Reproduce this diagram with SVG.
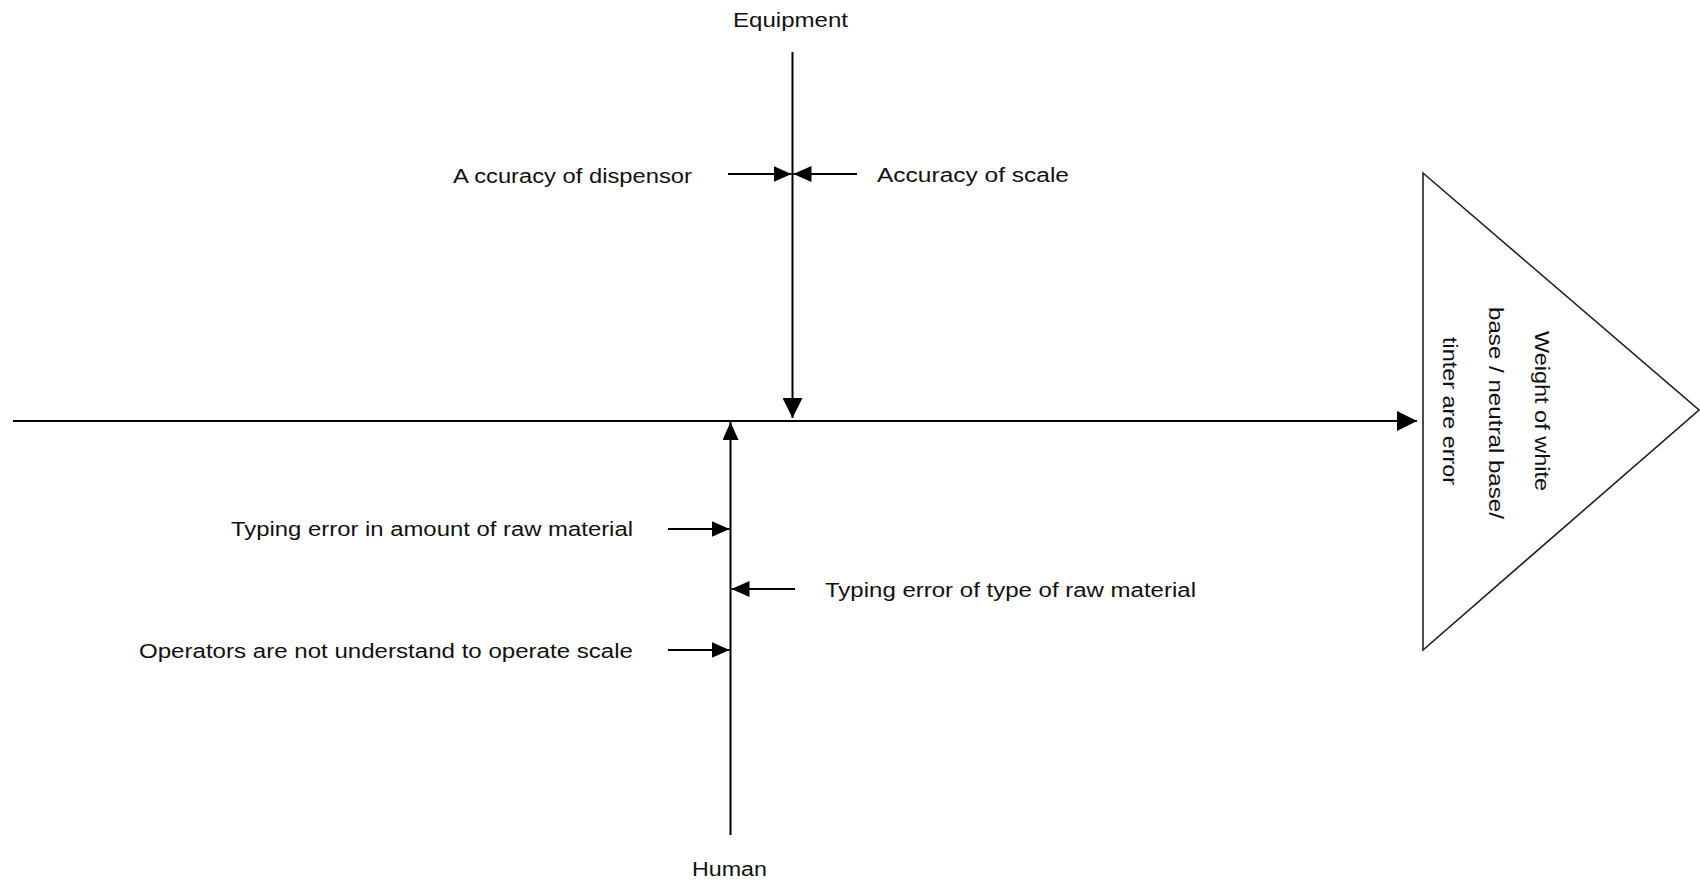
<svg xmlns="http://www.w3.org/2000/svg" width="1700" height="883" viewBox="0 0 1700 883">
  <style>
    .lbl { font-family: "Liberation Sans", Arial, sans-serif; font-size: 20px; fill: #111; }
    .edge { stroke: #000; stroke-width: 2; fill: none; }
  </style>
  <defs>
    <marker id="arrow" markerUnits="userSpaceOnUse" markerWidth="18" markerHeight="16" refX="18" refY="8" orient="auto">
      <path d="M0,0 L18,8 L0,16 Z" fill="#000"/>
    </marker>
    <marker id="arrowBig" markerUnits="userSpaceOnUse" markerWidth="20" markerHeight="20" refX="20" refY="10" orient="auto">
      <path d="M0,0 L20,10 L0,20 Z" fill="#000"/>
    </marker>
  </defs>
  <rect width="1700" height="883" fill="#fff"/>

  <!-- connectors: spine, category bones and cause arrows -->
  <g id="connectors">
    <line class="edge" x1="13" y1="421" x2="1417" y2="421" marker-end="url(#arrowBig)"/>
    <line class="edge" x1="792.5" y1="52" x2="792.5" y2="418" marker-end="url(#arrowBig)"/>
    <line class="edge" x1="730.5" y1="835" x2="730.5" y2="422" marker-end="url(#arrow)"/>
    <line class="edge" x1="728" y1="174" x2="791.5" y2="174" marker-end="url(#arrow)"/>
    <line class="edge" x1="857" y1="174" x2="793.5" y2="174" marker-end="url(#arrow)"/>
    <line class="edge" x1="668" y1="529" x2="729.5" y2="529" marker-end="url(#arrow)"/>
    <line class="edge" x1="795" y1="589" x2="731.5" y2="589" marker-end="url(#arrow)"/>
    <line class="edge" x1="668" y1="650" x2="729.5" y2="650" marker-end="url(#arrow)"/>
  </g>

  <!-- category: Equipment -->
  <g id="equipment">
    <text class="lbl" x="733" y="27" textLength="115" lengthAdjust="spacingAndGlyphs">Equipment</text>
  </g>
  <g id="cause-dispensor">
    <text class="lbl" x="453" y="182.5" textLength="239" lengthAdjust="spacingAndGlyphs">A ccuracy of dispensor</text>
  </g>
  <g id="cause-scale">
    <text class="lbl" x="877" y="181.5" textLength="192" lengthAdjust="spacingAndGlyphs">Accuracy of scale</text>
  </g>

  <!-- category: Human -->
  <g id="human">
    <text class="lbl" x="692" y="876" textLength="75" lengthAdjust="spacingAndGlyphs">Human</text>
  </g>
  <g id="cause-amount">
    <text class="lbl" x="231" y="536" textLength="402" lengthAdjust="spacingAndGlyphs">Typing error in amount of raw material</text>
  </g>
  <g id="cause-type">
    <text class="lbl" x="825" y="597" textLength="371" lengthAdjust="spacingAndGlyphs">Typing error of type of raw material</text>
  </g>
  <g id="cause-operators">
    <text class="lbl" x="139" y="658" textLength="494" lengthAdjust="spacingAndGlyphs">Operators are not understand to operate scale</text>
  </g>

  <!-- effect head -->
  <g id="effect">
    <polygon points="1423,173 1699,410 1423,650" fill="#fff" stroke="#222" stroke-width="1.6"/>
    <text class="lbl" text-anchor="middle" transform="translate(1535,411) rotate(90)" textLength="160" lengthAdjust="spacingAndGlyphs">Weight of white</text>
    <text class="lbl" text-anchor="middle" transform="translate(1489,413) rotate(90)" textLength="212" lengthAdjust="spacingAndGlyphs">base / neutral base/</text>
    <text class="lbl" text-anchor="middle" transform="translate(1443,411) rotate(90)" textLength="148" lengthAdjust="spacingAndGlyphs">tinter are error</text>
  </g>
</svg>
